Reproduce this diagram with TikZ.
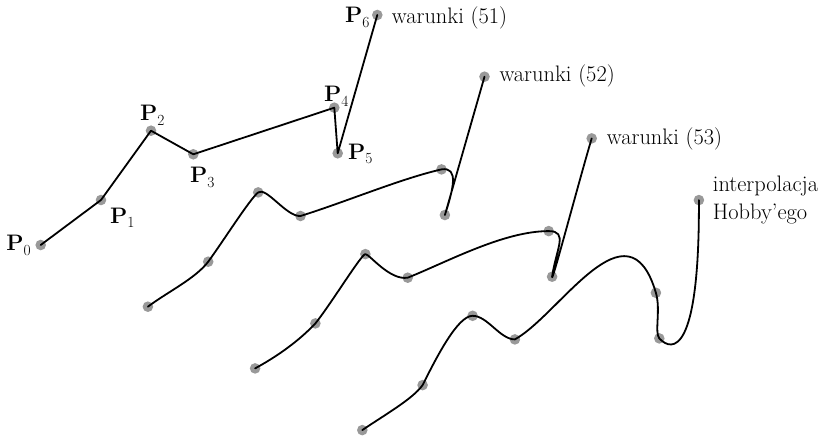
\documentclass[tikz,border=0pt]{standalone}
\usepackage{fontspec}
\definecolor{dotgray}{RGB}{153,153,153}
\newcommand{\Pt}[1]{\textbf{P}\raisebox{-0.2em}{\fontsize{15.5}{15.5}\selectfont #1}}
\tikzset{
  dotmark/.style={fill=dotgray},
  curveline/.style={line width=1.8bp, line cap=round, line join=round},
  lbl/.style={inner sep=0pt, font=\fontsize{22.5}{28.3}\selectfont},
}
\begin{document}
\begin{tikzpicture}[x=1bp,y=-1bp]
\useasboundingbox (0,0) rectangle (827,440);
\foreach \n/\dx/\dy in {a/0/0, b/107.2/61.7, c/214.4/123.4, d/321.6/185.1}{
  \foreach \i/\x/\y in {0/40.7/245, 1/101/200, 2/151/130.7, 3/193.3/154.3, 4/334.3/107.7, 5/337.7/153.3, 6/377.3/15}{
    \coordinate (\n\i) at (\x+\dx,\y+\dy);
    \fill[dotmark] (\n\i) circle (5.3);
  }
}
% polyline
\draw[curveline] (a0) -- (a1) -- (a2) -- (a3) -- (a4) -- (a5) -- (a6);
% conditions (52)
\draw[curveline] (b0) .. controls +(20,-15) and +(-13,17) .. (b1)
  .. controls +(14,-19) and +(-8,6) .. (b2)
  .. controls +(8,-6) and +(-14,1) .. (b3)
  .. controls +(45,-14) and +(-40,9) .. (b4)
  .. controls +(18,-3) and +(8,-25) .. (b5) -- (b6);
% conditions (53)
\draw[curveline] (c0) .. controls +(22,-12) and +(-17,18) .. (c1)
  .. controls +(16,-20) and +(-4,0) .. (c2)
  .. controls +(4,0) and +(-18,3) .. (c3)
  .. controls +(40,-16) and +(-45,0) .. (c4)
  .. controls +(20,0) and +(4,-28) .. (c5)
  .. controls +(-1,10) and +(-12,40) .. (c6);
% Hobby interpolation
\draw[curveline] (d0) .. controls +(22,-15) and +(-10,14) .. (d1)
  .. controls +(14,-28) and +(-15,0) .. (d2)
  .. controls +(15,0) and +(-15,0) .. (d3)
  .. controls +(45,-25) and +(-28,-95) .. (d4)
  .. controls +(5,17) and +(-5,-6) .. (d5)
  .. controls +(13,14) and +(0.7,155) .. (d6);
% labels
\node[lbl, anchor=base east] (l0) at (31,251) {\Pt{0}};
\node[lbl, anchor=base west] (l1) at (110,223.3) {\Pt{1}};
\node[lbl, anchor=base west] (l2) at (140,120.7) {\Pt{2}};
\node[lbl, anchor=base west] (l3) at (190,182.7) {\Pt{3}};
\node[lbl, anchor=base west] (l4) at (324,101.7) {\Pt{4}};
\node[lbl, anchor=base west] (l5) at (348,159.3) {\Pt{5}};
\node[lbl, anchor=base west] (l6) at (345,22.7) {\Pt{6}};
\node[lbl, anchor=base west] (w1) at (391.7,23.3) {warunki (51)};
\node[lbl, anchor=base west] (w2) at (499.3,81.7) {warunki (52)};
\node[lbl, anchor=base west] (w3) at (606.7,145) {warunki (53)};
\node[lbl, anchor=north west, align=left] (w4) at (712.7,176) {interpolacja\\Hobby'ego};
\end{tikzpicture}
\end{document}
